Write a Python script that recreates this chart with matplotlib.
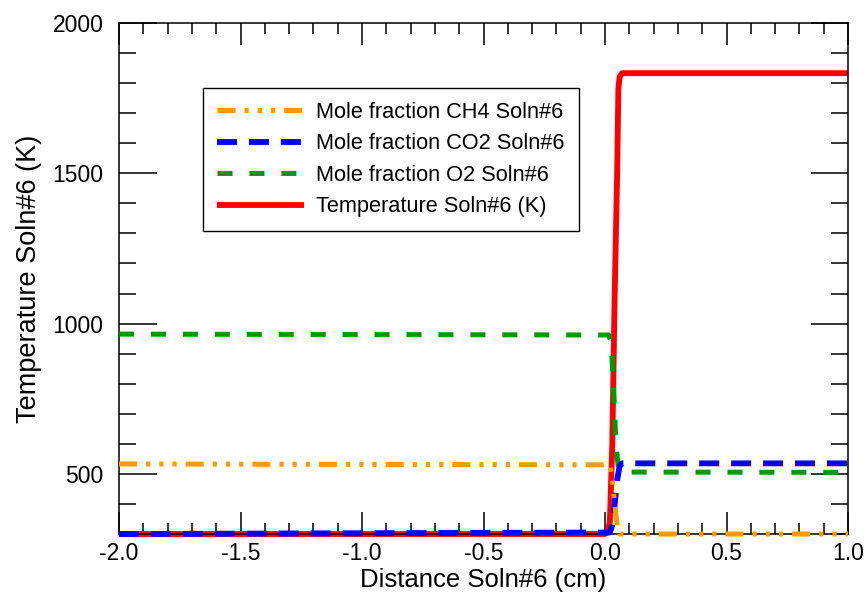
import matplotlib
matplotlib.use("Agg")
import matplotlib.pyplot as plt
from matplotlib.ticker import MultipleLocator

plt.rcParams['font.family'] = ['Liberation Sans', 'DejaVu Sans']
plt.rcParams['lines.scale_dashes'] = False

# distance (cm) and values
x_temp = [-2.0, 0.0, 0.01, 0.02, 0.03, 0.04, 0.05, 0.055, 0.06, 0.07, 1.0]
temperature = [300, 300, 305, 340, 600, 1100, 1500, 1780, 1820, 1833, 1833]

x_o2 = [-2.0, 0.015, 0.025, 0.035, 0.045, 0.055, 0.065, 1.0]
o2 = [965, 962, 940, 800, 600, 520, 506, 505]

x_co2 = [-2.0, 0.02, 0.03, 0.04, 0.05, 0.06, 0.07, 1.0]
co2 = [300, 305, 330, 400, 480, 525, 535, 535]

x_ch4 = [-2.0, 0.02, 0.03, 0.04, 0.05, 0.06, 1.0]
ch4 = [533, 530, 480, 400, 330, 300, 300]

fig = plt.figure(figsize=(8.68, 5.95), dpi=100)
ax = fig.add_axes([119 / 868, 61 / 595, 729 / 868, 511 / 595])

l_t, = ax.plot(x_temp, temperature, color='#ff0000', lw=4.2, solid_capstyle='butt',
               label='Temperature Soln#6 (K)', clip_on=False, zorder=2)
l_o2, = ax.plot(x_o2, o2, color='#009a00', lw=3.6, dashes=(10.8, 12.2),
                dash_capstyle='butt', label='Mole fraction O2 Soln#6', clip_on=False, zorder=3)
l_co2, = ax.plot(x_co2, co2, color='#0000ff', lw=4.2, dashes=(14.4, 8.6),
                 dash_capstyle='butt', label='Mole fraction CO2 Soln#6', clip_on=False, zorder=4)
l_ch4, = ax.plot(x_ch4, ch4, color='#ff9900', lw=3.6,
                 dashes=(13, 6.5, 3, 6.5, 3, 6.5, 3, 6.5),
                 dash_capstyle='butt', label='Mole fraction CH4 Soln#6', clip_on=False, zorder=5)

ax.set_xlim(-2.0, 1.0)
ax.set_ylim(300, 2000)
ax.xaxis.set_major_locator(MultipleLocator(0.5))
ax.xaxis.set_minor_locator(MultipleLocator(0.1))
ax.yaxis.set_major_locator(MultipleLocator(500))
ax.yaxis.set_minor_locator(MultipleLocator(100))
ax.xaxis.set_major_formatter(matplotlib.ticker.FormatStrFormatter('%.1f'))

ax.tick_params(axis='x', which='major', direction='in', top=True, length=16, width=1.1,
               labelsize=16.5, pad=6)
ax.tick_params(axis='x', which='minor', direction='in', top=True, length=8, width=1.1)
ax.tick_params(axis='y', which='major', direction='in', right=True, length=27, width=1.1,
               labelsize=16.5, pad=11)
ax.tick_params(axis='y', which='minor', direction='in', right=True, length=12.5, width=1.1)
for s in ax.spines.values():
    s.set_linewidth(1.1)

ax.set_xlabel('Distance Soln#6 (cm)', fontsize=18.5, labelpad=2)
ax.set_ylabel('Temperature Soln#6 (K)', fontsize=19.5, labelpad=8)

leg = ax.legend(handles=[l_ch4, l_co2, l_o2, l_t], loc='upper left',
                bbox_to_anchor=(84 / 729, 446 / 511), borderaxespad=0,
                fontsize=15.7, frameon=True, fancybox=False, framealpha=1,
                edgecolor='black', handlelength=4.0, handletextpad=0.55,
                borderpad=0.64, labelspacing=0.48)
leg.get_frame().set_linewidth(1.0)

fig.savefig('out.png', dpi=100)
